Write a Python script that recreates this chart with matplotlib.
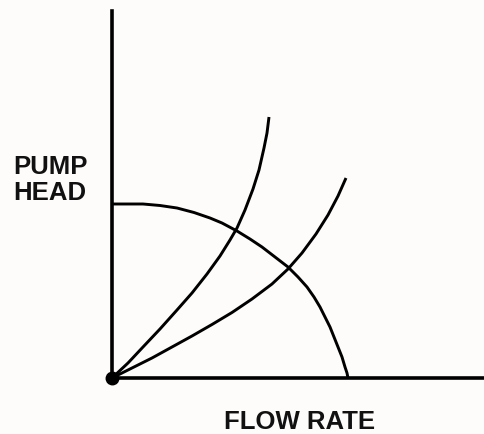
import matplotlib
matplotlib.use("Agg")
import matplotlib.pyplot as plt

# Pump curve (flow, head)
pump_flow = [0, 15, 31, 48, 65, 82, 98, 110, 125, 138, 150, 163, 176, 186, 195,
             202, 208, 213, 218, 222, 226, 230, 233, 235, 236]
pump_head = [174, 174, 174, 172.5, 170, 165.5, 160, 155, 147, 139, 131, 121, 111, 101, 91,
             81, 71, 61, 51, 41, 31, 21, 11, 5, 0]

# Steep system curve
sys1_flow = [0, 16, 31, 48, 65, 80, 95, 108, 118, 125, 133, 141, 147, 152, 155, 157]
sys1_head = [0, 15, 31, 49, 68, 85, 104, 122, 138, 150, 168, 189, 208, 230, 245, 261]

# Flatter system curve
sys2_flow = [0, 20, 40, 60, 80, 100, 120, 140, 160, 176, 190, 204, 216, 226, 234]
sys2_head = [0, 10, 20, 31, 42, 53.5, 65.5, 79, 94, 109, 125, 144, 163, 182, 200]

W, H = 485, 434
bg = '#fefcfa'
fig = plt.figure(figsize=(W / 100, H / 100), dpi=100, facecolor=bg)
ax = fig.add_axes([112 / W, (H - 378) / H, (W - 112) / W, (378 - 11) / H])
ax.set_facecolor(bg)

for fx, hy in [(pump_flow, pump_head), (sys1_flow, sys1_head), (sys2_flow, sys2_head)]:
    ax.plot(fx, hy, color='black', lw=2.1, solid_capstyle='butt', solid_joinstyle='round')
ax.plot([0], [0], 'o', color='black', ms=9, clip_on=False, zorder=5)

ax.set_xlim(0, 373)
ax.set_ylim(0, 367)
ax.set_xticks([])
ax.set_yticks([])
for s in ['top', 'right']:
    ax.spines[s].set_visible(False)
for s in ['left', 'bottom']:
    ax.spines[s].set_linewidth(2.6)
    ax.spines[s].set_color('black')

font = dict(family='Liberation Sans', weight='bold', size=18.5, color='#111111')
fig.text(13 / W, 1 - 155 / H, 'PUMP\nHEAD', ha='left', va='top', linespacing=1.12, **font)
fig.text(300 / W, (H - 429) / H, 'FLOW RATE', ha='center', va='baseline', **font)

fig.savefig('out.png', dpi=100, facecolor=bg)
